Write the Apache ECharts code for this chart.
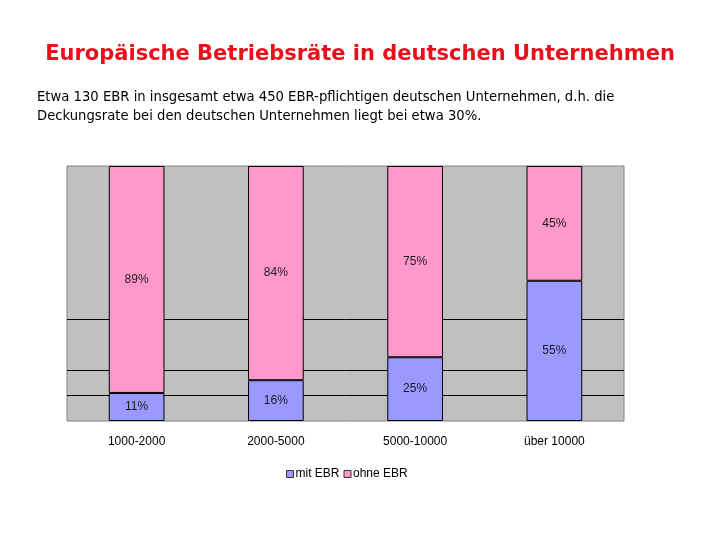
<!DOCTYPE html>
<html><head><meta charset="utf-8">
<script src="https://cdn.jsdelivr.net/npm/echarts@6/dist/echarts.min.js"></script>
<style>html,body{margin:0;padding:0;background:#fff}#c{width:720px;height:540px}</style>
</head><body><div id="c"></div>
<script>
const categories = ['1000-2000', '2000-5000', '5000-10000', 'über 10000'];
const mitEBR = [11, 16, 25, 55];
const ohneEBR = [89, 84, 75, 45];
const gridValues = [10, 20, 40];
const titleText = 'Europäische Betriebsräte in deutschen Unternehmen';
const noteLines = ['Etwa 130 EBR in insgesamt etwa 450 EBR-pflichtigen deutschen Unternehmen, d.h. die',
                   'Deckungsrate bei den deutschen Unternehmen liegt bei etwa 30%.'];

const chart = echarts.init(document.getElementById('c'));
const lbl = {show: true, position: 'inside', color: '#1a1a1a', fontFamily: 'Liberation Sans', fontSize: 12,
  formatter: p => p.value + '%'};
chart.setOption({
  animation: false,
  title: {text: titleText, left: 'center', top: 39,
    textStyle: {color: '#E8101A', fontFamily: 'DejaVu Sans', fontWeight: 'bold', fontSize: 21}},
  graphic: noteLines.map((t, i) => ({type: 'text', left: 37, top: 91 + i * 19,
    style: {text: t, fill: '#000', font: '13.2px "DejaVu Sans"'}})),
  grid: {left: 67, right: 96, top: 166, bottom: 119, show: true, backgroundColor: '#C0C0C0', borderColor: '#808080', borderWidth: 1},
  legend: {top: 463, left: 281, itemWidth: 7, itemHeight: 7, itemGap: 4, icon: 'rect',
    textStyle: {fontFamily: 'Liberation Sans', fontSize: 12, color: '#000', padding: [0,0,0,-3]},
    data: [{name: 'mit EBR', itemStyle: {borderColor: '#333', borderWidth: 1}},
           {name: 'ohne EBR', itemStyle: {borderColor: '#333', borderWidth: 1}}]},
  xAxis: {type: 'category', data: categories, axisTick: {show: false}, axisLine: {show: false},
    axisLabel: {color: '#000', fontFamily: 'Liberation Sans', fontSize: 12, margin: 15}},
  yAxis: {type: 'value', min: 0, max: 100, show: false, splitLine: {show: false}},
  series: [
    {name: 'mit EBR', type: 'bar', stack: 's', data: mitEBR, barWidth: '40%', z: 3,
      itemStyle: {color: '#9999FF', borderColor: '#000', borderWidth: 1}, label: lbl},
    {name: 'ohne EBR', type: 'bar', stack: 's', data: ohneEBR, barWidth: '40%', z: 3,
      itemStyle: {color: '#FF99CC', borderColor: '#000', borderWidth: 1}, label: lbl},
    {name: 'grid', type: 'line', data: [], z: 1, silent: true,
      markLine: {silent: true, symbol: 'none', z: 1, label: {show: false},
        lineStyle: {color: '#000', width: 1, type: 'solid'},
        data: gridValues.map(v => ({yAxis: v}))}}
  ]
});
</script></body></html>
